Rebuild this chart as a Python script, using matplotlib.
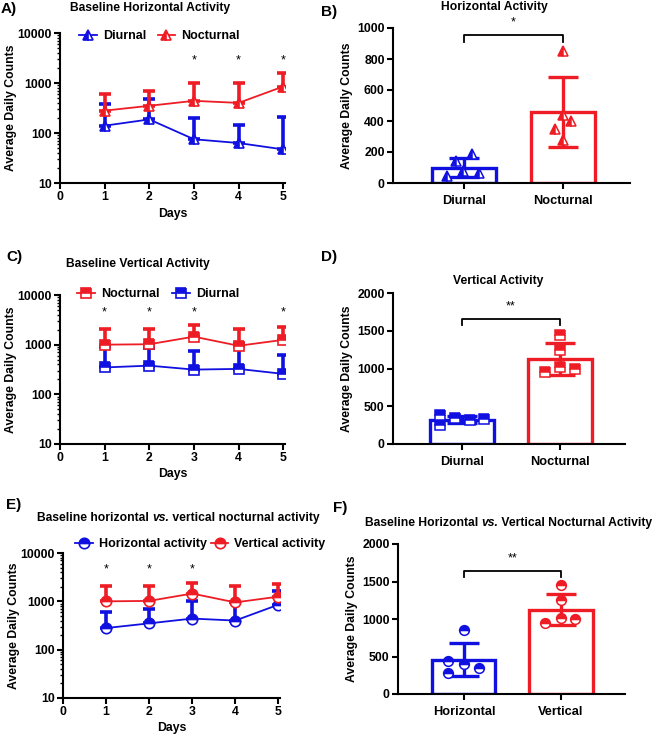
import matplotlib
matplotlib.use("Agg")
import matplotlib.pyplot as plt
import numpy as np
from matplotlib.ticker import LogLocator, FixedLocator, FuncFormatter, NullFormatter

plt.rcParams['font.family'] = ['Liberation Sans', 'DejaVu Sans']
plt.rcParams['font.weight'] = 'bold'

# ---------------- data ----------------
days = [1, 2, 3, 4, 5]
# Horizontal activity (panel A)
hor_diurnal = [140, 187, 75, 63, 47]
hor_diurnal_err_top = [385, 480, 200, 145, 205]
hor_nocturnal = [280, 350, 440, 400, 850]
hor_nocturnal_err_top = [590, 690, 1000, 990, 1600]
sig_days_A = [3, 4, 5]

# Vertical activity (panel C)
ver_nocturnal = [1000, 1020, 1450, 950, 1250]
ver_nocturnal_err_top = [2030, 2030, 2450, 2060, 2260]
ver_diurnal = [348, 378, 315, 325, 258]
ver_diurnal_err_top = [880, 860, 735, 1040, 620]
sig_days_C = [1, 2, 3, 5]
sig_days_E = [1, 2, 3]

# Bar summaries
bar_B_labels = ['Diurnal', 'Nocturnal']
bar_B_means = [100, 460]
bar_B_sd = [63, 225]
bar_D_labels = ['Diurnal', 'Nocturnal']
bar_D_means = [320, 1128]
bar_D_sd = [45, 210]
bar_F_labels = ['Horizontal', 'Vertical']
bar_F_means = [460, 1125]
bar_F_sd = [225, 210]

# ---------------- styles / layout ----------------
BLUE = '#1010e0'
RED = '#ee1c24'
W, H = 655, 735
TICK_FS = 8.8
LAB_FS = 8.8
TITLE_FS = 8.7
PANEL_FS = 11

# jitter offsets per day (x units) for the scatter points inside bars
jit_B = [[-0.08, 0.08, -0.01, 0.15, -0.17], [0.0, -0.08, 0.0, 0.08, 0.0]]
jit_D = [[-0.07, -0.22, 0.08, 0.23, -0.22], [0.15, 0.0, 0.0, -0.15, 0.0]]
jit_F = [[-0.16, 0.15, -0.16, 0.0, 0.0], [0.14, 0.0, 0.0, -0.16, 0.0]]

fig = plt.figure(figsize=(W / 100, H / 100), dpi=100)


def rect(l, t, r, b):
    return [l / W, 1 - b / H, (r - l) / W, (b - t) / H]


def style_axes(ax):
    for s in ['top', 'right']:
        ax.spines[s].set_visible(False)
    for s in ['left', 'bottom']:
        ax.spines[s].set_linewidth(1.5)
    ax.tick_params(axis='both', which='major', width=1.5, length=4.5, labelsize=TICK_FS, pad=1.5)
    ax.tick_params(axis='both', which='minor', width=1.0, length=2.5)
    for lab in ax.get_xticklabels() + ax.get_yticklabels():
        lab.set_fontweight('bold')


def line_panel(ax, series, legend_pos, sig_days, sig_y, legend_spacing):
    handles = []
    for (y, etop, color, marker, label) in series:
        y = np.array(y, float)
        etop = np.array(etop, float)
        ax.errorbar(days, y, yerr=[np.zeros_like(y), etop - y], fmt='none',
                    ecolor=color, elinewidth=2.6, capsize=4, capthick=2.6, zorder=2)
        ln, = ax.plot(days, y, color=color, lw=1.3, marker=marker, markersize=7.5,
                      fillstyle='left' if marker == '^' else 'top',
                      markerfacecolor=color, markerfacecoloralt='white',
                      markeredgecolor=color, markeredgewidth=1.2, zorder=3, label=label)
        handles.append(ln)
    ax.set_yscale('log')
    ax.set_ylim(10, 10000)
    ax.set_xlim(0, 5.04)
    ax.set_xticks([0, 1, 2, 3, 4, 5])
    ax.yaxis.set_major_locator(FixedLocator([10, 100, 1000, 10000]))
    ax.yaxis.set_major_formatter(FuncFormatter(lambda v, p: '%d' % v))
    ax.yaxis.set_minor_locator(LogLocator(base=10, subs=np.arange(2, 10)))
    ax.yaxis.set_minor_formatter(NullFormatter())
    ax.set_xlabel('Days', fontsize=LAB_FS, fontweight='bold', labelpad=3)
    ax.set_ylabel('Average Daily Counts', fontsize=LAB_FS, fontweight='bold', labelpad=0.5)
    style_axes(ax)
    for d in sig_days:
        ax.text(d, sig_y, '*', ha='center', va='center', fontsize=9, fontweight='normal')
    leg = fig.legend(handles=handles, loc='center left', bbox_to_anchor=legend_pos,
                     bbox_transform=fig.transFigure, ncol=2, frameon=False,
                     handlelength=1.4, handletextpad=0.5, columnspacing=legend_spacing,
                     prop={'weight': 'bold', 'size': 9})
    return leg


def bar_panel(ax, labels, means, sd, points, jits, marker, xlim, ylim, yticks,
              bracket, stars):
    colors = [BLUE, RED]
    x = np.arange(len(labels))
    ax.bar(x, means, width=0.65, color='white', edgecolor=colors, linewidth=2.4, zorder=1)
    for i in range(len(labels)):
        ax.errorbar(x[i], means[i], yerr=sd[i], fmt='none', ecolor=colors[i],
                    elinewidth=2.4, capsize=11, capthick=2.4, zorder=2)
        px = x[i] + np.array(jits[i])
        ax.plot(px, points[i], linestyle='none', marker=marker, markersize=7,
                fillstyle='left' if marker == '^' else 'top',
                markerfacecolor=colors[i], markerfacecoloralt='white',
                markeredgecolor=colors[i], markeredgewidth=1.1, zorder=3)
    ax.set_xlim(*xlim)
    ax.set_ylim(*ylim)
    ax.set_yticks(yticks)
    ax.set_xticks(x)
    ax.set_xticklabels(labels, fontsize=9, fontweight='bold')
    ax.set_ylabel('Average Daily Counts', fontsize=LAB_FS, fontweight='bold', labelpad=3)
    style_axes(ax)
    ax.tick_params(axis='x', length=4.5, pad=4)
    ax.tick_params(axis='x', labelsize=9.2)
    btop, bdrop = bracket
    ax.plot([0, 0, 1, 1], [bdrop, btop, btop, bdrop], color='black', lw=1.3, clip_on=False)
    ax.text(0.5, btop + (ylim[1] - ylim[0]) * 0.045, stars, ha='center', va='bottom',
            fontsize=9, fontweight='normal', clip_on=False)


def mixed_title(ax, x_px, y_px, parts):
    """Draw title made of consecutive pieces (text, italic?) starting at left x."""
    t = fig.text(x_px / W, 1 - y_px / H, parts[0][0], ha='left', va='center',
                 fontsize=TITLE_FS, fontweight='bold',
                 style='italic' if parts[0][1] else 'normal')
    prev = t
    for txt, ital in parts[1:]:
        prev = ax.annotate(txt, xy=(1, 0), xycoords=prev, ha='left', va='bottom',
                           fontsize=TITLE_FS, fontweight='bold',
                           style='italic' if ital else 'normal', annotation_clip=False)


# ---------- Panel A ----------
axA = fig.add_axes(rect(60, 33, 285, 183))
line_panel(axA, [(hor_diurnal, hor_diurnal_err_top, BLUE, '^', 'Diurnal'),
                 (hor_nocturnal, hor_nocturnal_err_top, RED, '^', 'Nocturnal')],
           (68 / W, 1 - 36 / H), sig_days_A, 2800, 0.9)
fig.text(150 / W, 1 - 8 / H, 'Baseline Horizontal Activity', ha='center', va='center',
         fontsize=TITLE_FS, fontweight='bold')
fig.text(1 / W, 1 - 9 / H, 'A)', ha='left', va='center', fontsize=PANEL_FS, fontweight='bold')

# ---------- Panel B ----------
axB = fig.add_axes(rect(393, 28, 630, 183))
bar_panel(axB, bar_B_labels, bar_B_means, bar_B_sd,
          [hor_diurnal, hor_nocturnal], jit_B, '^', (-0.72, 1.68), (0, 1000),
          [0, 200, 400, 600, 800, 1000], (955, 912), '*')
fig.text(494 / W, 1 - 7 / H, 'Horizontal Activity', ha='center', va='center',
         fontsize=TITLE_FS, fontweight='bold')
fig.text(321 / W, 1 - 12 / H, 'B)', ha='left', va='center', fontsize=PANEL_FS, fontweight='bold')

# ---------- Panel C ----------
axC = fig.add_axes(rect(60, 295, 285, 444))
line_panel(axC, [(ver_nocturnal, ver_nocturnal_err_top, RED, 's', 'Nocturnal'),
                 (ver_diurnal, ver_diurnal_err_top, BLUE, 's', 'Diurnal')],
           (66 / W, 1 - 294 / H), sig_days_C, 4500, 1.0)
fig.text(138 / W, 1 - 264 / H, 'Baseline Vertical Activity', ha='center', va='center',
         fontsize=TITLE_FS, fontweight='bold')
fig.text(6 / W, 1 - 257 / H, 'C)', ha='left', va='center', fontsize=PANEL_FS, fontweight='bold')

# ---------- Panel D ----------
axD = fig.add_axes(rect(393, 293, 625, 444))
bar_panel(axD, bar_D_labels, bar_D_means, bar_D_sd,
          [ver_diurnal, ver_nocturnal], jit_D, 's', (-0.70, 1.66), (0, 2000),
          [0, 500, 1000, 1500, 2000], (1651, 1576), '**')
fig.text(498 / W, 1 - 281 / H, 'Vertical Activity', ha='center', va='center',
         fontsize=TITLE_FS, fontweight='bold')
fig.text(321 / W, 1 - 257 / H, 'D)', ha='left', va='center', fontsize=PANEL_FS, fontweight='bold')

# ---------- Panel E ----------
axE = fig.add_axes(rect(63, 553, 280, 698))
line_panel(axE, [(hor_nocturnal, hor_nocturnal_err_top, BLUE, 'o', 'Horizontal activity'),
                 (ver_nocturnal, ver_nocturnal_err_top, RED, 'o', 'Vertical activity')],
           (64 / W, 1 - 544 / H), sig_days_E, 4600, 0.3)
mixed_title(axE, 37, 518, [('Baseline horizontal ', False), ('vs.', True),
                           (' vertical nocturnal activity', False)])
fig.text(6 / W, 1 - 505 / H, 'E)', ha='left', va='center', fontsize=PANEL_FS, fontweight='bold')

# ---------- Panel F ----------
axF = fig.add_axes(rect(398, 544, 625, 694))
bar_panel(axF, bar_F_labels, bar_F_means, bar_F_sd,
          [hor_nocturnal, ver_nocturnal], jit_F, 'o', (-0.68, 1.66), (0, 2000),
          [0, 500, 1000, 1500, 2000], (1644, 1564), '**')
mixed_title(axF, 365, 523, [('Baseline Horizontal ', False), ('vs.', True),
                            (' Vertical Nocturnal Activity', False)])
fig.text(333 / W, 1 - 508 / H, 'F)', ha='left', va='center', fontsize=PANEL_FS, fontweight='bold')

fig.savefig('out.png', dpi=100)
